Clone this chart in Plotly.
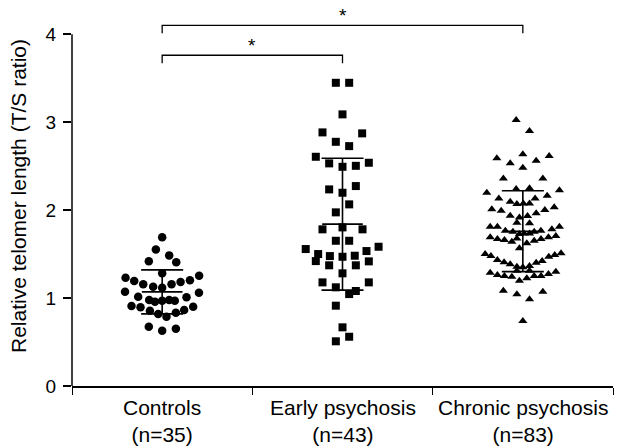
import plotly.graph_objects as go

cat_names = ["Controls", "Early psychosis", "Chronic psychosis"]
cat_counts = ["(n=35)", "(n=43)", "(n=83)"]

ctrl_y = [1.690, 1.553, 1.485, 1.417, 1.406, 1.281, 1.231, 1.193, 1.156, 1.128, 1.117, 1.156,
          1.182, 1.201, 1.253, 1.072, 1.015, 0.977, 0.958, 0.969, 0.977, 0.969, 1.008, 1.060,
          0.909, 0.894, 0.856, 0.818, 0.788, 0.833, 0.864, 0.901, 0.674, 0.628, 0.651]
ctrl_dx = [0, -0.035, 0.039, -0.074, 0.078, 0, -0.203, -0.155, -0.105, -0.050, 0, 0.052,
           0.102, 0.154, 0.205, -0.206, -0.133, -0.072, -0.040, 0, 0.039, 0.070, 0.135, 0.204,
           -0.170, -0.120, -0.068, -0.022, 0.024, 0.076, 0.122, 0.172, -0.074, 0, 0.076]

early_y = [3.447, 3.447, 3.088, 2.883, 2.872, 2.776, 2.727, 2.606, 2.531, 2.492, 2.503, 2.538,
           2.235, 2.273, 2.197, 2.065, 1.974, 1.781, 1.803, 1.781, 1.651, 1.651, 1.557, 1.500,
           1.420, 1.477, 1.372, 1.469, 1.481, 1.372, 1.534, 1.583, 1.417, 1.281, 1.178, 1.122,
           1.178, 1.045, 1.080, 0.913, 0.667, 0.560, 0.508]
early_dx = [-0.037, 0.037, 0, -0.111, 0.109, -0.037, 0.037, -0.148, -0.074, 0, 0.074, 0.146,
            -0.074, 0.074, 0, 0.037, -0.037, -0.111, 0, 0.111, -0.037, 0.037, -0.204, -0.135,
            -0.148, -0.070, -0.074, 0, 0.068, 0.074, 0.133, 0.200, 0.146, 0, -0.111, -0.037,
            0.146, 0.037, 0.074, -0.037, 0, 0.037, -0.037]

chronic_y = [3.023, 2.898, 2.636, 2.588, 2.531, 2.560, 2.614, 2.481, 2.360, 2.360, 2.197, 2.239,
             2.247, 2.224, 2.133, 2.094, 2.068, 2.076, 2.076, 2.133, 2.163, 2.008, 1.992, 1.935,
             1.917, 1.932, 1.963, 2.000, 2.031, 1.856, 1.849, 1.810, 1.810, 1.765, 1.753, 1.727,
             1.735, 1.735, 1.753, 1.765, 1.781, 1.810, 1.690, 1.670, 1.659, 1.640, 1.678, 1.622,
             1.651, 1.670, 1.690, 1.705, 1.565, 1.500, 1.477, 1.432, 1.406, 1.383, 1.356, 1.349,
             1.364, 1.401, 1.420, 1.469, 1.489, 1.508, 1.288, 1.261, 1.250, 1.242, 1.197, 1.224,
             1.310, 1.310, 1.250, 1.250, 1.273, 1.299, 1.083, 1.042, 1.072, 0.985, 0.739]
chronic_dx = [-0.037, 0.037, 0, -0.144, -0.070, 0.074, 0.146, 0, -0.108, 0.111, -0.200, -0.037,
              0.037, 0.203, -0.133, -0.070, -0.033, 0.003, 0.037, 0.068, 0.135, -0.172, -0.120, -0.070,
              -0.019, 0.026, 0.074, 0.122, 0.174, -0.033, 0.037, -0.181, -0.141, -0.097, -0.055, -0.019,
              0.007, 0.037, 0.063, 0.100, 0.161, 0.203, -0.181, -0.141, -0.102, -0.061, -0.033, 0.022,
              0.063, 0.101, 0.142, 0.183, -0.019, -0.209, -0.177, -0.141, -0.104, -0.070, -0.033, 0,
              0.037, 0.074, 0.107, 0.144, 0.177, 0.212, -0.181, -0.141, -0.102, -0.061, -0.019, 0.022,
              -0.033, 0.037, 0.063, 0.101, 0.142, 0.183, -0.108, -0.033, 0.111, 0.037, 0]

group_means = [1.07, 1.84, 1.76]
group_sds = [0.25, 0.75, 0.46]

brackets = [  # (from group, to group, height, star)
    (0, 1, 3.76, "*"),
    (0, 2, 4.10, "*"),
]

y_ticks = [0, 1, 2, 3, 4]

FONT = "Liberation Sans, Arial, sans-serif"

fig = go.Figure()

groups = [
    (0, ctrl_y, ctrl_dx, "circle", 8.5),
    (1, early_y, early_dx, "square", 8),
    (2, chronic_y, chronic_dx, "triangle-up", 8),
]

# error bars (mean +/- SD)
fig.add_trace(go.Scatter(
    x=[0, 1, 2], y=group_means, mode="markers",
    marker=dict(symbol="line-ew", size=29, color="black", line=dict(width=1.6, color="black")),
    error_y=dict(type="data", array=group_sds, visible=True, width=21, thickness=1.6, color="black"),
    showlegend=False, hoverinfo="skip",
))

for idx, ys, dxs, sym, sz in groups:
    fig.add_trace(go.Scatter(
        x=[idx + d for d in dxs], y=ys, mode="markers",
        marker=dict(symbol=sym, size=sz, color="black", line=dict(width=0)),
        showlegend=False,
    ))

shapes = []
# y axis line only up to 4
shapes.append(dict(type="line", xref="paper", yref="y", x0=0, x1=0, y0=0, y1=max(y_ticks),
                   line=dict(color="black", width=1.5)))
annotations = []
for a, b, h, star in brackets:
    leg = 0.09
    shapes.append(dict(type="path", xref="x", yref="y",
                       path=f"M {a},{h-leg} L {a},{h} L {b},{h} L {b},{h-leg}",
                       line=dict(color="black", width=1.3)))
    annotations.append(dict(x=(a + b) / 2, y=h - 0.03, xref="x", yref="y", text=star,
                            showarrow=False, yanchor="bottom",
                            font=dict(family=FONT, size=19, color="black")))

# category labels (two lines)
for i, (name, cnt) in enumerate(zip(cat_names, cat_counts)):
    annotations.append(dict(x=i, y=0, xref="x", yref="paper", text=f"{name}<br>{cnt}",
                            showarrow=False, yanchor="middle", yshift=-35, borderpad=0,
                            font=dict(family=FONT, size=21, color="black")))

fig.update_layout(
    width=621, height=446,
    margin=dict(l=72, r=8, t=6, b=60, autoexpand=False),
    paper_bgcolor="white", plot_bgcolor="white",
    shapes=shapes, annotations=annotations,
    font=dict(family=FONT, color="black"),
    xaxis=dict(
        range=[-0.5, 2.5], tickvals=[-0.5, 0.5, 1.5, 2.5], showticklabels=False,
        ticks="outside", ticklen=7, tickwidth=1.3, tickcolor="black",
        showgrid=False, zeroline=False, automargin=False,
        showline=True, linecolor="black", linewidth=1.5,
    ),
    yaxis=dict(
        range=[0, 4.32], tickvals=y_ticks, ticks="outside", ticklen=8, tickwidth=1.5,
        tickcolor="black", showgrid=False, zeroline=False, showline=False, automargin=False,
        ticklabelstandoff=3,
        tickfont=dict(family=FONT, size=19, color="black"),
        title=dict(text="Relative telomer length (T/S ratio)",
                   font=dict(family=FONT, size=21, color="black"), standoff=13),
    ),
)

fig.write_html("out.html", config={"displayModeBar": False},
               post_script="document.body.style.margin='0';")
